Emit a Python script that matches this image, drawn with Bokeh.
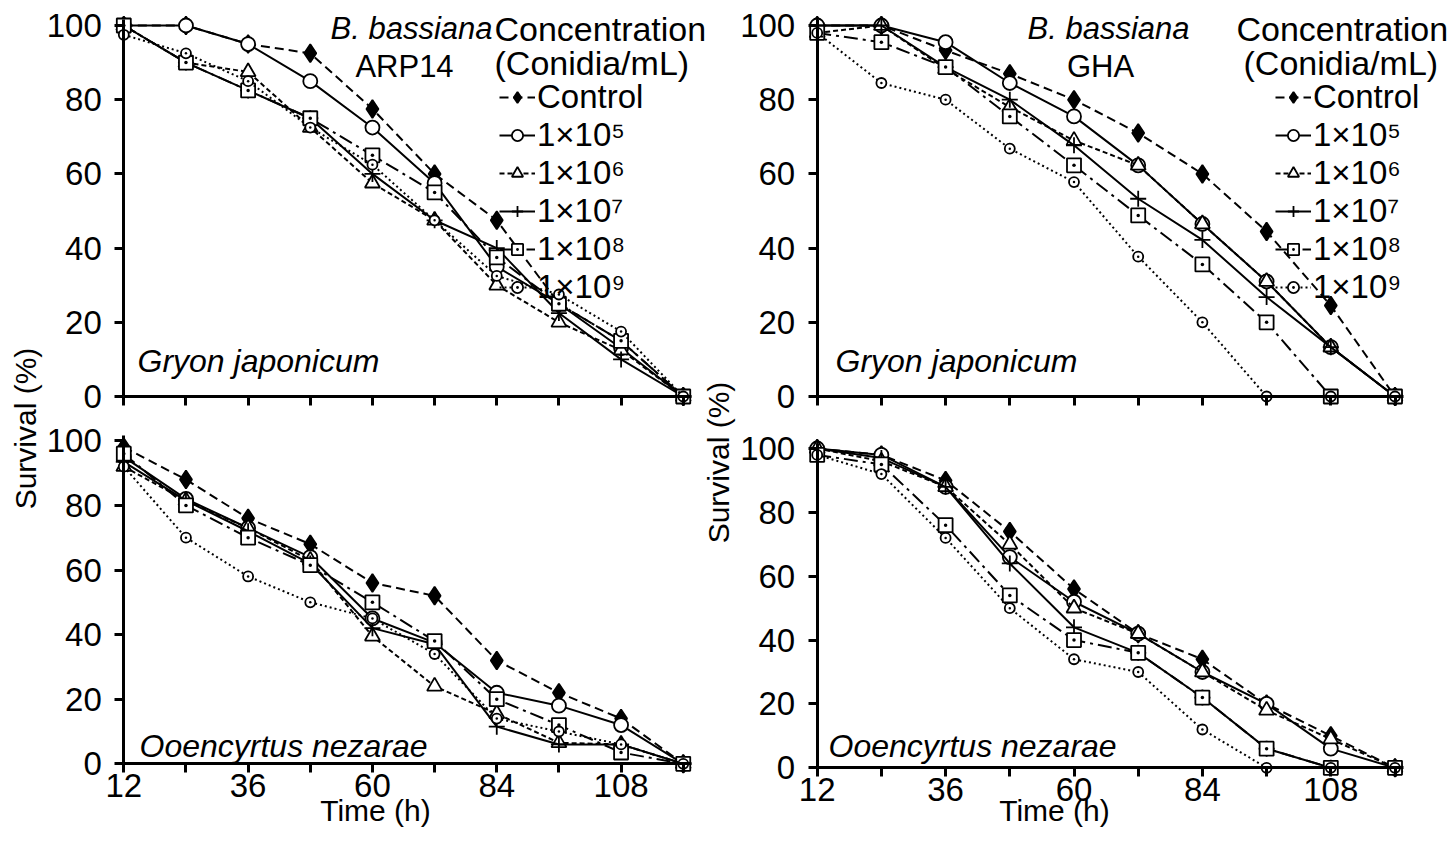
from bokeh.plotting import figure
from bokeh.models import Range1d, LinearAxis, FixedTicker, Legend, LegendItem
from bokeh.core.properties import value
from bokeh.embed import file_html
from bokeh.resources import INLINE
import math

# ---------------- data ----------------
time_h = [12, 24, 36, 48, 60, 72, 84, 96, 108, 120]
series_labels = ["Control", "1×10⁵", "1×10⁶", "1×10⁷", "1×10⁸", "1×10⁹"]
x_major_ticks = [12, 36, 60, 84, 108]
x_minor_ticks = [24, 48, 72, 96, 120]
y_ticks = [0, 20, 40, 60, 80, 100]

# B. bassiana ARP14 - Gryon japonicum
arp14_gj_control = [100, 100, 95, 92.5, 77.5, 60, 47.5, 25, 15, 0]
arp14_gj_1e5 = [100, 100, 95, 85, 72.5, 57.5, 35, 25, 13, 0]
arp14_gj_1e6 = [100, 90, 87.5, 72.5, 57.5, 47.5, 30, 20, 12.5, 0]
arp14_gj_1e7 = [100, 90, 82.5, 75, 60, 47.5, 40, 22.5, 10, 0]
arp14_gj_1e8 = [100, 90, 82.5, 75, 65, 55, 37.5, 25, 15, 0]
arp14_gj_1e9 = [97.5, 92.5, 85, 72.5, 62.5, 47.5, 32.5, 27.5, 17.5, 0]

# B. bassiana GHA - Gryon japonicum
gha_gj_control = [100, 100, 93.3, 87, 80, 71, 60, 44.5, 24.5, 0]
gha_gj_1e5 = [100, 100, 95.5, 84.5, 75.5, 62.3, 46.5, 31, 13.3, 0]
gha_gj_1e6 = [98, 100, 88.3, 78, 69, 62.3, 46.5, 31, 13.3, 0]
gha_gj_1e7 = [100, 100, 88.8, 80, 67.7, 53.3, 42.2, 26.8, 13.3, 0]
gha_gj_1e8 = [98, 95.5, 88.8, 75.5, 62.3, 48.8, 35.6, 20, 0, 0]
gha_gj_1e9 = [98, 84.5, 80, 66.8, 57.8, 37.7, 20, 0, 0, 0]

# B. bassiana ARP14 - Ooencyrtus nezarae
arp14_on_control = [98, 88, 76, 68, 56, 52, 32, 22, 14, 0]
arp14_on_1e5 = [95, 82, 73, 64, 45, 37.5, 22, 18, 12, 0]
arp14_on_1e6 = [92, 81.5, 73, 63, 39.5, 24, 15.5, 6.5, 6, 0]
arp14_on_1e7 = [93.5, 81.5, 72, 62, 42, 37, 11.5, 6, 6, 0]
arp14_on_1e8 = [96, 80, 70, 61.5, 50, 38, 20, 12, 3.5, 0]
arp14_on_1e9 = [92, 70, 58, 50, 45, 34, 14, 10, 6, 0]

# B. bassiana GHA - Ooencyrtus nezarae
gha_on_control = [100, 98, 90, 74, 56, 42, 34, 20, 10, 0]
gha_on_1e5 = [100, 98, 88, 66, 52, 42, 30, 20, 6, 0]
gha_on_1e6 = [100, 96, 88, 70, 50, 42, 30, 18, 9, 0]
gha_on_1e7 = [100, 97, 88, 64, 44, 36, 22, 6, 0, 0]
gha_on_1e8 = [98, 95, 76, 54, 40, 36, 22, 6, 0, 0]
gha_on_1e9 = [98, 92, 72, 50, 34, 30, 12, 0, 0, 0]

# ---------------- layout / style ----------------
W, H = 1450, 852
PAGE_L, PAGE_T = 0, 0
PAGE_R, PAGE_B = PAGE_L + W, PAGE_T + H
FONT = "Liberation Sans"

def x_span(v0, px0, ppu):
    return Range1d(start=v0 - (px0 - PAGE_L) / ppu, end=v0 + (PAGE_R - px0) / ppu)

def y_span(v0, py0, ppu):
    return Range1d(start=v0 - (PAGE_B - py0) / ppu, end=v0 + (py0 - PAGE_T) / ppu)

def py(y):  # page y -> default range y
    return PAGE_B - y

p = figure(width=W, height=H, x_range=Range1d(PAGE_L, PAGE_R), y_range=Range1d(0, H),
           x_axis_type=None, y_axis_type=None, toolbar_location=None,
           output_backend="svg", min_border=0, outline_line_color=None)
p.extra_x_ranges = {"xL": x_span(12, 123.3, 5.18), "xR": x_span(12, 816.7, 5.35)}
p.extra_y_ranges = {"yT": y_span(0, 396, 3.71), "yBL": y_span(0, 763.3, 3.23),
                    "yBR": y_span(0, 767.3, 3.193)}

styles = [
    dict(marker="diamond", fill="black", dash="9 5", size=18),
    dict(marker="circle", fill="white", dash="solid", size=14),
    dict(marker="triangle", fill="white", dash="5 3", size=15),
    dict(marker="cross", fill="black", dash="solid", size=16),
    dict(marker="square_dot", fill="white", dash="14 5 3 5", size=14),
    dict(marker="circle_dot", fill="white", dash="2 3", size=10),
]

panels = [
    ("xL", "yT", [arp14_gj_control, arp14_gj_1e5, arp14_gj_1e6, arp14_gj_1e7, arp14_gj_1e8, arp14_gj_1e9], False),
    ("xR", "yT", [gha_gj_control, gha_gj_1e5, gha_gj_1e6, gha_gj_1e7, gha_gj_1e8, gha_gj_1e9], False),
    ("xL", "yBL", [arp14_on_control, arp14_on_1e5, arp14_on_1e6, arp14_on_1e7, arp14_on_1e8, arp14_on_1e9], True),
    ("xR", "yBR", [gha_on_control, gha_on_1e5, gha_on_1e6, gha_on_1e7, gha_on_1e8, gha_on_1e9], True),
]

legend_renderers = {}
for xr, yr, series, bottom in panels:
    ya = LinearAxis(x_range_name=xr, y_range_name=yr, fixed_location=12, bounds=(0, 101.5),
                    ticker=FixedTicker(ticks=y_ticks))
    xa = LinearAxis(x_range_name=xr, y_range_name=yr, fixed_location=0, bounds=(12, 121.5),
                    ticker=FixedTicker(ticks=x_major_ticks if bottom else [],
                                       minor_ticks=x_minor_ticks if bottom else x_major_ticks + x_minor_ticks))
    for ax in (ya, xa):
        ax.axis_line_width = 3
        ax.axis_line_color = "black"
        ax.major_tick_line_width = 3
        ax.minor_tick_line_width = 3
        ax.major_tick_in = 0
        ax.minor_tick_in = 0
        ax.major_tick_out = 9
        ax.minor_tick_out = 9
        ax.major_label_text_font = FONT
        ax.major_label_text_font_size = "33px"
        ax.major_label_text_color = "black"
    ya.major_label_standoff = 13
    xa.major_label_standoff = 1
    p.add_layout(ya, "left")
    p.add_layout(xa, "below")
    rs = []
    for vals, st in zip(series, styles):
        lr = p.line(time_h, vals, x_range_name=xr, y_range_name=yr, line_color="black",
                    line_width=2, line_dash=st["dash"])
        sr = p.scatter(time_h, vals, x_range_name=xr, y_range_name=yr, marker=st["marker"],
                       size=st["size"], fill_color=st["fill"], line_color="black", line_width=1.8)
        rs.append([lr, sr])
    legend_renderers[(xr, yr)] = rs

# legends for the top panels
for key, lx in ((("xL", "yT")), 499), ((("xR", "yT")), 1275):
    items = [LegendItem(label=lab, renderers=r) for lab, r in zip(series_labels, legend_renderers[key])]
    leg = Legend(items=items, location=(lx - PAGE_L, PAGE_B - 306), orientation="vertical",
                 label_text_font=FONT, label_text_font_size="33px", label_text_color="black",
                 glyph_width=36, glyph_height=28, label_height=28, spacing=0, padding=0, margin=0,
                 label_standoff=2, border_line_alpha=0, background_fill_alpha=0)
    p.add_layout(leg)

def txt(x, y, s, size="32px", style="normal", align="left", angle=0.0):
    p.text(x=[x], y=[py(y)], text=[s], text_font=value(FONT), text_font_size=size,
           text_font_style=style, text_align=align, text_baseline="middle",
           text_color="black", angle=angle)

# strain titles
txt(411, 28, "B. bassiana", size="31px", style="italic", align="center")
txt(404, 66, "ARP14", size="31px", align="center")
txt(1108, 28, "B. bassiana", size="31px", style="italic", align="center")
txt(1100, 66, "GHA", size="31px", align="center")
# legend headers
txt(494, 28, "Concentration", size="34px")
txt(494, 62, "(Conidia/mL)", size="34px")
txt(1236, 28, "Concentration", size="34px")
txt(1243, 62, "(Conidia/mL)", size="34px")
# species
txt(137, 360, "Gryon japonicum", style="italic")
txt(835, 360, "Gryon japonicum", style="italic")
txt(139, 745, "Ooencyrtus nezarae", style="italic")
txt(828, 745, "Ooencyrtus nezarae", style="italic")
# axis titles
txt(375, 810, "Time (h)", size="30px", align="center")
txt(1054, 810, "Time (h)", size="30px", align="center")
txt(25, 428, "Survival (%)", size="30px", align="center", angle=math.pi / 2)
txt(718, 462, "Survival (%)", size="30px", align="center", angle=math.pi / 2)

open("out.html", "w").write(file_html(p, INLINE))
